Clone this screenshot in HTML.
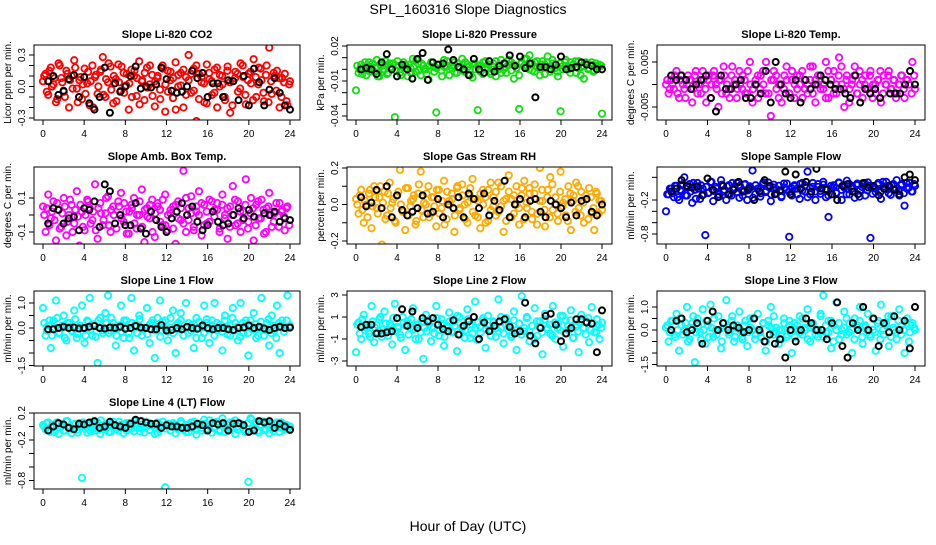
<!DOCTYPE html>
<html><head><meta charset="utf-8"><title>SPL_160316 Slope Diagnostics</title>
<style>
html,body{margin:0;padding:0;background:#fff;}
svg text{font-family:"Liberation Sans",sans-serif;fill:#000;}
</style></head>
<body>
<svg id="chart" width="936" height="540" viewBox="0 0 936 540" xmlns="http://www.w3.org/2000/svg">
<text x="468" y="14" text-anchor="middle" font-size="14">SPL_160316  Slope Diagnostics</text>
<text x="468" y="531" text-anchor="middle" font-size="14">Hour of Day (UTC)</text>
</svg>
<script>
const hourTicks = [0,4,8,12,16,20,24];
const titles = ["Slope Li-820 CO2","Slope Li-820 Pressure","Slope Li-820 Temp.","Slope Amb. Box Temp.","Slope Gas Stream RH","Slope Sample Flow","Slope Line 1 Flow","Slope Line 2 Flow","Slope Line 3 Flow","Slope Line 4 (LT) Flow"];
const yTitles = ["Licor ppm per min.","kPa per min.","degrees C per min.","degrees C per min.","percent per min.","ml/min per min.","ml/min per min.","ml/min per min.","ml/min per min.","ml/min per min."];

const co2Vals = [0.05,0.12,-0.08,0.18,0.02,-0.15,0.22,0.08,-0.05,0.15,-0.2,0.1,0.25,-0.02,0.06,-0.12,0.17,0.03,-0.18,0.2,0.09,-0.07,0.14,0.28,-0.1,0.04,0.19,-0.16,0.07,0.21,-0.04,0.13,0.01,-0.22,0.16,0.1,-0.09,0.24,0.05,-0.13,0.18,0.02,0.11,-0.19,0.08,-0.03,0.2,-0.24,0.15,0.06,-0.11,0.23,0.0,0.13,-0.2,0.09,0.3,-0.06,0.17,-0.33,0.12,0.04,-0.15,0.21,0.07,-0.08,0.16,-0.2,0.11,0.02,-0.13,0.19,-0.25,0.05,0.14,-0.05,0.22,0.09,-0.17,0.12,0.03,0.26,-0.1,0.18,0.06,-0.14,0.2,0.37,-0.07,0.1,0.15,-0.2,0.08,0.12,-0.18,0.05];
const co2Vals2 = [0.1,-0.05,0.15,0.0,0.08,-0.12,0.2,0.04,-0.1,0.12,0.06,-0.02,0.18,-0.15,0.09,0.02,-0.07,0.14,0.05,-0.2,0.11,0.0,0.16,-0.08,0.07,0.22,-0.03,0.1,-0.14,0.04,0.19,-0.06,0.12,0.03,-0.1,0.15,0.08,-0.17,0.06,0.13,-0.01,0.2,-0.09,0.05,0.1,-0.12,0.17,0.02,-0.05,0.14,0.08,-0.22,0.11,0.01,0.16,-0.08,0.06,0.12,-0.04,0.2,-0.12,0.09,0.03,-0.16,0.13,0.05,-0.06,0.18,0.0,0.1,-0.1,0.15,0.04,-0.18,0.08,0.12,-0.02,0.2,-0.08,0.06,0.14,-0.13,0.09,0.02,0.17,-0.06,0.11,-0.15,0.05,0.13,-0.04,0.08,-0.1,0.04,-0.14,0.02];
const co2Means = [0.05,0.1,-0.08,-0.04,0.07,0.11,-0.1,0.09,-0.16,-0.22,-0.1,0.18,-0.25,0.03,-0.05,0.0,0.1,0.19,-0.02,0.0,-0.01,0.02,0.18,0.07,-0.04,-0.06,-0.05,0.0,0.15,0.08,0.13,-0.1,0.03,0.03,-0.1,0.06,0.05,-0.13,0.1,-0.18,0.17,0.04,-0.18,-0.03,0.08,-0.06,-0.18,-0.22];
const pressVals = [-0.018,-0.003,0.004,0.0,-0.005,0.006,0.002,-0.002,0.008,-0.006,0.003,0.0,-0.004,0.005,0.001,-0.041,0.007,-0.003,0.002,0.004,-0.006,0.001,0.009,-0.002,0.005,-0.005,0.003,0.0,-0.009,0.006,0.002,-0.037,0.004,-0.001,0.008,0.003,-0.005,0.001,0.006,-0.003,0.002,0.009,-0.002,0.004,0.0,-0.007,0.005,-0.035,0.003,-0.004,0.007,0.001,-0.002,0.005,-0.006,0.002,0.008,0.0,-0.003,0.004,0.006,-0.008,0.001,-0.034,0.005,0.009,0.003,0.012,-0.001,0.006,0.002,-0.005,0.007,0.004,0.011,-0.002,0.005,0.001,-0.006,-0.036,0.003,0.008,0.0,0.006,0.004,-0.003,0.007,0.002,-0.008,0.005,0.001,0.006,-0.001,0.003,0.004,-0.038];
const pressVals2 = [0.003,0.0,-0.004,0.006,0.002,-0.002,0.005,0.001,-0.006,0.004,0.0,0.007,-0.003,0.002,0.005,-0.001,0.003,-0.005,0.006,0.001,0.004,-0.003,0.002,0.008,-0.001,0.005,0.0,-0.004,0.003,0.006,-0.002,0.001,0.004,-0.006,0.002,0.007,0.0,0.003,-0.003,0.005,0.001,-0.001,0.006,0.002,-0.005,0.004,0.0,0.003,-0.002,0.006,0.001,0.004,-0.004,0.002,0.007,0.0,-0.003,0.005,0.002,0.008,-0.001,0.004,0.001,-0.005,0.006,0.003,0.009,0.0,0.005,-0.002,0.007,0.002,0.004,-0.004,0.006,0.001,0.008,0.003,-0.002,0.005,0.0,0.006,0.002,-0.003,0.004,0.007,0.001,-0.005,0.003,0.006,0.0,0.004,-0.002,0.005,0.002,0.003];
const pressMeans = [0.0,0.001,0.0,-0.004,0.006,0.013,0.0,-0.006,0.004,0.0,-0.008,0.009,0.014,-0.009,0.006,0.004,0.005,0.017,0.008,0.002,0.0,-0.005,0.009,0.0,-0.003,0.007,-0.002,0.003,0.005,0.012,0.003,0.011,0.001,0.005,-0.024,0.002,0.002,0.0,0.004,0.011,0.0,0.001,0.002,0.006,0.004,0.003,0.0,0.0];
const tempVals = [0,-0.002,0.001,-0.001,0.003,-0.003,0.002,-0.001,0,0.001,-0.004,0.002,-0.002,0,0.003,-0.001,0.001,-0.003,0.002,0,-0.005,0.001,0.004,-0.002,-0.001,0.002,0,-0.003,0.003,-0.001,0.001,-0.002,0.005,-0.004,0,0.002,-0.001,0.003,-0.002,0.01,-0.007,0.001,0.002,-0.003,0,-0.001,0.004,-0.002,0.001,-0.003,0.002,0,0.003,-0.001,-0.002,0.001,0.004,-0.004,0,0.002,-0.001,0.005,-0.003,0.001,0.003,-0.002,0.006,0,-0.005,0.002,-0.001,0.001,0.004,-0.002,0,-0.003,0.002,-0.001,0.003,0,-0.002,0.001,-0.004,0.002,0,0.003,-0.001,0.001,-0.002,0,0.002,-0.003,0.001,0,0.005,-0.001];
const tempVals2 = [0.001,-0.001,0.0,0.002,-0.002,0.001,0.0,-0.003,0.002,0.001,-0.001,0.003,0.0,-0.002,0.001,-0.004,0.002,0.0,0.003,-0.001,0.001,-0.002,0.002,0.0,-0.003,0.004,0.001,-0.001,0.0,0.002,-0.002,0.003,0.0,-0.001,0.001,-0.003,0.002,0.0,0.005,-0.002,0.001,0.003,-0.001,0.0,-0.004,0.002,0.001,-0.002,0.003,0.0,-0.001,0.002,-0.003,0.001,0.0,0.004,-0.002,0.001,0.002,-0.001,0.0,-0.003,0.003,0.001,-0.002,0.0,0.002,0.004,-0.001,0.001,-0.004,0.0,0.002,-0.002,0.003,0.001,0.0,-0.001,0.002,-0.003,0.0,0.001,0.003,-0.002,0.0,0.002,-0.001,0.001,-0.003,0.0,0.002,-0.001,0.001,0.0,-0.002,0.002];
const tempMeans = [0.002,0.001,0.002,0.001,-0.001,0,0.001,0.002,-0.003,-0.006,0.002,-0.001,-0.001,0,0.001,-0.003,-0.003,0,-0.002,0.003,-0.004,0.005,0,-0.002,-0.003,0.001,-0.004,0.001,-0.001,0,0.002,0.001,0,-0.001,-0.001,-0.002,-0.003,0.002,-0.004,-0.001,-0.002,-0.001,-0.003,-0.011,-0.002,-0.002,-0.002,0,0.003,0];
const ambVals = [0.05,-0.1,0.12,-0.02,0.08,-0.15,0.03,-0.07,0.1,-0.12,0.0,0.06,-0.05,0.14,-0.18,0.02,-0.09,0.09,0.04,-0.03,0.18,-0.14,0.07,-0.06,0.01,0.11,-0.1,0.05,-0.2,0.08,0.13,-0.04,0.02,-0.11,0.06,0.1,-0.08,0.0,0.15,-0.16,0.04,-0.02,0.09,-0.13,0.07,0.03,-0.06,0.12,-0.09,0.01,0.05,-0.17,0.08,-0.03,0.26,-0.1,0.04,0.11,-0.07,0.02,0.14,-0.12,0.06,-0.05,0.09,-0.2,0.03,0.07,-0.08,0.12,0.0,-0.14,0.05,0.17,-0.06,0.08,-0.1,0.02,0.21,-0.04,0.1,-0.15,0.06,-0.02,0.09,-0.11,0.04,0.13,-0.07,0.01,-0.19,0.07,0.03,-0.09,0.05,-0.22];
const ambVals2 = [0.0,0.04,-0.06,0.02,-0.03,0.07,-0.08,0.01,0.05,-0.04,0.09,-0.1,0.03,-0.01,0.06,-0.07,0.0,0.08,-0.05,0.02,-0.09,0.04,0.01,-0.03,0.1,-0.06,0.03,0.0,-0.08,0.05,-0.02,0.07,-0.11,0.02,0.04,-0.05,0.0,0.08,-0.07,0.03,-0.01,0.06,-0.1,0.01,0.05,-0.04,0.09,-0.06,0.0,0.03,-0.08,0.06,-0.02,0.04,-0.05,0.1,-0.03,0.01,-0.09,0.05,0.0,0.07,-0.06,0.02,-0.04,0.08,-0.01,0.03,-0.1,0.06,-0.02,0.04,-0.07,0.0,0.09,-0.05,0.02,-0.03,0.06,-0.08,0.01,0.04,-0.06,0.08,-0.02,0.03,-0.1,0.05,0.0,-0.04,0.07,-0.07,0.02,-0.01,0.04,-0.06];
const ambMeans = [-0.05,0.04,0.03,-0.05,-0.02,-0.01,-0.09,0.04,0.03,0.08,-0.07,0.18,0.14,-0.05,0.0,-0.06,-0.06,0.07,-0.08,-0.11,0.02,-0.03,-0.07,-0.1,-0.02,0.02,0.07,0.0,0.05,-0.04,-0.09,-0.06,0.02,-0.04,-0.06,-0.05,0.0,0.04,-0.02,0.03,-0.01,-0.2,0.01,0.0,0.02,-0.04,-0.02,-0.03];
const rhVals = [0.03,-0.05,0.08,-0.1,0.0,0.06,-0.13,0.1,-0.02,0.04,-0.22,0.07,-0.06,0.12,0.01,-0.09,0.05,0.19,-0.04,-0.14,0.09,-0.01,0.03,-0.11,0.06,0.18,-0.07,0.0,0.1,-0.05,0.04,-0.12,0.08,-0.02,0.13,-0.08,0.02,0.06,-0.15,0.09,-0.03,0.11,0.0,-0.1,0.05,0.14,-0.06,0.02,-0.13,0.08,0.04,-0.09,0.12,-0.01,0.07,-0.04,0.1,-0.15,0.03,0.16,-0.07,0.05,0.0,-0.11,0.09,0.13,-0.02,0.06,-0.08,0.11,-0.05,0.2,0.02,-0.12,0.08,0.15,-0.03,0.04,-0.09,0.18,0.01,-0.06,0.1,-0.14,0.05,0.12,-0.02,0.07,-0.1,0.03,0.09,-0.05,-0.14,0.06,0.02,-0.03];
const rhVals2 = [0.0,0.05,-0.03,0.02,-0.07,0.08,-0.01,0.04,-0.05,0.1,0.01,-0.08,0.06,-0.02,0.03,-0.1,0.07,0.0,-0.04,0.09,-0.06,0.02,0.05,-0.09,0.11,-0.03,0.01,0.06,-0.07,0.04,-0.01,0.08,-0.05,0.02,-0.11,0.07,0.0,0.03,-0.06,0.1,-0.02,0.05,-0.08,0.01,0.09,-0.04,0.03,-0.07,0.06,0.0,-0.1,0.08,-0.03,0.04,-0.06,0.12,-0.01,0.02,-0.09,0.07,0.03,-0.05,0.1,-0.02,0.05,-0.08,0.01,0.09,-0.04,0.06,-0.11,0.02,0.08,-0.03,0.04,-0.07,0.11,0.0,-0.05,0.07,-0.01,0.03,-0.09,0.06,0.02,-0.04,0.1,-0.06,0.01,0.05,-0.08,0.04,-0.02,0.07,-0.05,0.02];
const rhMeans = [0.04,-0.01,0.01,0.08,-0.02,0.1,-0.07,0.05,-0.03,-0.06,-0.04,-0.02,0.05,-0.05,-0.04,0.03,-0.07,0.0,-0.02,0.04,-0.07,0.06,0.03,-0.02,0.06,-0.06,0.02,-0.03,0.13,-0.07,0.0,0.03,-0.07,0.02,0.03,-0.04,-0.07,0.02,0.0,-0.02,-0.07,0.01,-0.06,0.02,0.03,-0.04,-0.06,0.0];
const sampleVals = [-0.4,-0.1,0.0,-0.15,0.05,-0.2,-0.05,0.2,-0.12,0.08,-0.25,-0.02,0.1,-0.18,0.0,-0.82,-0.08,0.12,-0.22,0.03,-0.1,0.15,-0.05,-0.2,0.06,-0.12,0.02,0.1,-0.16,-0.03,0.07,-0.2,0.04,0.32,-0.1,0.0,-0.14,0.08,-0.06,0.11,-0.22,0.02,-0.08,0.05,-0.15,0.09,-0.02,-0.85,-0.12,0.06,0.0,-0.18,0.1,-0.05,0.3,-0.1,0.03,-0.2,0.08,-0.04,0.12,-0.15,-0.5,0.0,0.06,-0.08,0.1,-0.2,0.02,0.14,-0.1,0.05,-0.16,0.09,-0.03,0.07,-0.12,0.11,-0.87,0.02,-0.06,0.1,-0.18,0.04,0.12,-0.08,0.06,-0.02,0.15,-0.12,0.08,-0.3,0.0,0.1,-0.05,0.05];
const sampleVals2 = [-0.1,0.0,-0.08,0.05,-0.15,-0.02,0.08,-0.12,0.02,-0.05,0.1,-0.18,0.0,0.06,-0.1,0.03,-0.07,0.12,-0.04,0.0,-0.14,0.07,-0.02,0.04,-0.1,0.1,0.0,-0.06,0.05,-0.12,0.08,-0.03,0.02,-0.16,0.06,0.0,-0.08,0.11,-0.04,0.03,-0.1,0.07,-0.01,0.05,-0.13,0.02,0.09,-0.06,0.0,0.04,-0.1,0.08,-0.03,0.06,-0.15,0.01,0.1,-0.05,0.03,-0.09,0.07,0.0,-0.12,0.05,0.02,-0.07,0.11,-0.02,0.04,-0.1,0.08,0.0,-0.05,0.06,-0.14,0.03,0.1,-0.03,0.05,-0.09,0.01,0.07,-0.06,0.12,-0.01,0.04,-0.11,0.08,0.0,-0.04,0.06,-0.08,0.1,0.02,-0.05,0.08];
const sampleMeans = [-0.05,0.0,0.15,0.05,0.02,0.04,-0.12,0.18,-0.02,-0.15,0.05,-0.1,-0.02,0.12,-0.05,0.0,-0.2,-0.05,0.15,0.05,-0.1,-0.03,0.3,-0.1,0.25,0.0,0.12,-0.05,0.35,0.0,-0.02,-0.1,-0.2,0.05,0.08,-0.05,-0.1,0.1,0.02,0.05,-0.12,0.0,0.05,-0.02,-0.1,0.2,0.25,0.15];
const line1Vals = [0.8,-0.3,0.1,-0.8,0.3,1.1,-0.2,0.0,0.5,-0.5,0.2,-0.1,0.7,-0.4,0.0,0.9,-0.6,0.3,1.2,-0.3,0.1,-1.4,0.4,-0.2,0.6,1.3,-0.1,0.2,-0.7,0.0,0.9,-0.4,0.3,-0.2,1.2,-0.9,0.1,0.5,-0.3,0.0,0.8,-0.6,0.2,-1.2,0.4,1.1,-0.1,0.3,-0.5,0.0,0.7,-1.0,0.2,0.6,-0.3,1.0,-0.2,0.1,-0.8,0.4,0.0,-0.4,0.9,0.2,-0.6,0.3,1.0,-0.1,0.1,-0.9,0.5,0.0,-0.3,0.8,0.2,-0.5,1.0,-0.2,0.3,-1.1,0.1,0.6,-0.4,0.0,1.2,-0.3,0.2,-0.7,0.5,-0.1,0.9,-1.0,0.3,0.0,1.3,0.1];
const line1Vals2 = [0.2,-0.1,0.3,-0.3,0.0,0.4,-0.2,0.1,-0.4,0.2,0.05,-0.15,0.35,-0.25,0.1,0.0,-0.3,0.25,-0.05,0.15,-0.35,0.3,0.0,-0.1,0.2,-0.2,0.4,0.05,-0.3,0.1,-0.15,0.3,0.0,-0.4,0.2,0.1,-0.2,0.35,-0.05,0.0,-0.25,0.15,0.3,-0.1,0.05,-0.35,0.25,0.0,-0.15,0.4,-0.2,0.1,-0.05,0.3,-0.3,0.0,0.2,-0.1,0.15,-0.4,0.25,0.05,-0.2,0.35,-0.05,0.1,-0.3,0.2,0.0,-0.15,0.3,-0.25,0.1,0.4,-0.1,0.05,-0.35,0.2,0.0,-0.2,0.3,-0.05,0.15,-0.3,0.25,0.0,-0.1,0.35,-0.2,0.1,-0.4,0.2,0.05,-0.15,0.3,0.0];
const line1Means = [-0.05,-0.05,0.0,0.05,0.0,0.02,-0.02,0.0,0.05,0.08,0.0,-0.02,0.02,0.0,0.05,-0.03,0.0,0.08,0.02,0.0,-0.05,-0.05,0.12,-0.1,-0.08,0.0,-0.05,0.05,0.0,-0.03,0.1,0.0,-0.05,0.0,0.0,-0.05,-0.08,0.0,0.02,0.1,0.0,0.05,-0.02,-0.08,0.0,0.05,0.0,0.02];
const line2Vals = [-2.2,0.5,-1,1.2,0,-0.5,2,-1.3,0.3,0.8,-0.8,1.5,-0.2,0.4,-1.5,2.2,0.1,-0.6,1,-2,0.6,0,1.8,-1,0.3,-0.4,-2.8,1.2,0.5,-1.2,0,2,-0.7,0.8,-1.6,0.2,1.4,-0.3,0.6,-2.1,1,0,-0.9,1.7,0.3,-0.5,2.4,-1.1,0.1,0.7,-1.8,1.1,-0.2,0.5,-0.8,2.6,0,-1.4,0.9,0.3,-0.6,1.5,-2,0.4,2.9,-0.3,1,-1.2,0.2,1.8,-0.7,0.6,-2.4,1.3,0,-0.5,2,-1,0.4,1.1,-1.7,0.7,-0.2,1.6,-0.9,0.3,-2.2,1.2,0,0.6,-1.3,1.9,-0.4,0.8,-1,0.5];
const line2Vals2 = [0.3,-0.5,0.8,-0.2,0.1,-0.8,0.6,0.0,-0.4,1.0,-0.1,0.4,-0.7,0.2,0.9,-0.3,0.0,-0.9,0.5,0.2,-0.6,0.8,-0.1,0.3,-1.0,0.6,0.0,-0.3,0.7,0.1,-0.5,0.9,-0.2,0.4,-0.8,0.0,0.6,-0.4,0.2,1.1,-0.6,0.1,-0.2,0.8,-0.9,0.3,0.0,0.5,-0.4,0.9,-0.1,0.2,-0.7,0.6,0.0,-0.3,1.0,-0.5,0.3,0.1,-0.8,0.7,-0.2,0.4,-0.6,0.0,0.9,-0.3,0.2,-1.0,0.6,0.1,-0.4,0.8,-0.1,0.3,-0.7,0.5,0.0,-0.2,1.1,-0.5,0.2,0.7,-0.9,0.1,-0.3,0.6,0.0,-0.6,0.9,-0.2,0.4,-0.4,0.3,0.0];
const line2Means = [0.1,0.3,0.3,-0.5,-0.5,-0.4,-0.3,0.9,1.7,0.2,1.5,0,0.9,0.6,0.9,0.3,-0.1,-0.3,0.7,-0.6,0.2,0.6,1,-1,0.5,-0.3,0.2,0.6,0.8,0.1,-0.5,-0.3,2.3,-0.7,-1.4,0,1.1,1.3,0.3,-1.2,-0.5,0,0.8,0.8,0.5,0.4,-2.2,1.6];
const line3Vals = [0.1,-0.5,0.4,-0.2,0.7,-0.9,0.2,0.0,1.0,-0.4,0.3,-1.4,0.5,-0.1,0.9,-0.6,0.2,1.1,-0.3,0.0,0.6,-0.8,0.3,1.3,-0.2,0.4,-0.5,0.1,0.8,-0.3,0.2,-0.7,0.5,0.0,-0.4,0.7,-0.1,0.3,-0.9,0.4,1.0,-0.2,0.1,-0.6,0.0,0.5,-0.3,0.2,-1.0,0.3,0.0,0.6,-0.2,0.1,0.9,-0.5,0.2,0.0,-0.3,0.7,1.5,-0.1,0.4,-0.8,0.2,1.2,-0.4,0.0,0.8,-0.2,0.3,-1.0,0.5,0.1,1.0,-0.6,0.2,0.7,-0.3,0.0,-0.9,0.4,1.1,-0.2,0.3,-0.7,0.6,0.0,-0.4,0.9,0.2,-1.0,0.5,-0.1,0.3,0.0];
const line3Vals2 = [0.2,-0.1,0.4,-0.3,0.0,0.5,-0.2,0.3,-0.5,0.1,0.6,-0.1,0.2,-0.4,0.0,0.4,-0.3,0.1,0.5,-0.2,0.0,-0.5,0.3,0.1,-0.1,0.6,-0.3,0.2,0.0,-0.4,0.4,-0.1,0.1,0.5,-0.2,0.0,-0.3,0.3,-0.5,0.2,0.1,0.6,-0.1,0.0,-0.4,0.3,-0.2,0.4,0.0,-0.3,0.2,-0.1,0.5,0.0,-0.4,0.1,0.3,-0.2,0.0,0.6,-0.3,0.2,-0.1,0.4,-0.5,0.0,0.3,-0.2,0.1,0.5,-0.1,0.0,-0.4,0.2,0.4,-0.3,0.1,0.0,-0.2,0.5,-0.1,0.3,-0.4,0.0,0.2,0.6,-0.3,0.1,-0.1,0.4,-0.2,0.0,0.3,-0.5,0.2,0.1];
const line3Means = [0.0,0.4,0.5,-0.1,0.0,0.3,-0.6,0.4,0.8,0.0,0.3,0.0,0.2,0.1,-0.1,0.0,0.5,0.0,-0.5,-0.2,-0.6,-0.4,-1.2,0.0,-0.5,0.0,0.5,0.3,0.0,0.0,-0.4,0.3,1.2,-0.7,-1.2,0.3,0.0,1.0,0.0,0.5,-0.7,0.3,-0.1,0.6,0.0,0.4,-0.8,1.0];
const line4Vals = [0.02,-0.04,0.06,-0.08,-0.01,0.04,-0.11,0,-0.06,0.08,-0.03,-0.1,0.03,-0.05,0.05,-0.76,0,-0.09,0.04,-0.02,-0.06,0.06,-0.11,0.01,-0.04,0.03,-0.08,0.07,-0.01,-0.06,0.02,-0.1,0.05,-0.03,0,-0.07,0.04,-0.02,0.08,-0.09,0.01,-0.05,0.03,-0.11,0.06,-0.04,0,-0.9,0.04,-0.06,0.02,-0.1,-0.01,0.05,-0.04,-0.08,0.03,-0.02,0.07,-0.12,0.01,-0.06,0.04,-0.03,0.09,-0.09,0,0.05,-0.05,0.12,-0.08,0.02,-0.02,0.06,-0.11,0,0.04,-0.04,-0.08,-0.82,0.11,-0.01,0.07,-0.09,0.02,-0.05,0.05,-0.1,0.01,-0.03,0.06,-0.08,0.03,-0.01,-0.04,0];
const line4Vals2 = [0.0,0.05,-0.05,0.02,-0.08,0.06,-0.02,0.03,-0.06,0.08,0.0,-0.04,0.04,-0.09,0.01,0.06,-0.03,0.02,-0.07,0.05,0.0,-0.05,0.09,-0.02,0.03,-0.08,0.04,0.0,-0.04,0.07,-0.01,0.02,-0.06,0.05,-0.03,0.08,0.0,-0.07,0.03,-0.02,0.06,-0.05,0.01,0.04,-0.09,0.02,0.07,-0.03,0.0,-0.06,0.05,0.03,-0.04,0.08,-0.01,0.02,-0.08,0.06,0.0,-0.05,0.04,-0.02,0.1,-0.06,0.01,0.05,-0.03,0.07,-0.07,0.02,0.0,-0.04,0.06,-0.02,0.09,-0.05,0.03,0.0,-0.08,0.05,0.12,-0.03,0.04,-0.06,0.02,0.07,-0.04,0.0,0.05,-0.07,0.03,-0.01,0.06,-0.05,0.02,0.0];
const line4Means = [-0.06,0.0,0.05,0.03,-0.02,-0.04,0.04,0.03,0.06,0.08,-0.02,0.0,0.07,0.02,0.0,-0.02,0.04,0.1,0.08,0.06,0.04,0.04,-0.02,0.02,0.0,0.0,-0.02,-0.02,0.0,0.04,0.02,-0.06,0.05,0.03,0.05,-0.06,0.04,0.05,0.02,-0.08,-0.06,0.08,0.06,0.08,-0.02,0.04,0.0,-0.05];

const yTickVals = [[-0.3,-0.2,-0.1,0,0.1,0.2,0.3],[-0.04,-0.03,-0.02,-0.01,0,0.01,0.02],[-0.005,0,0.005],[-0.1,0,0.1],[-0.2,-0.1,0,0.1,0.2],[-0.8,-0.6,-0.4,-0.2,0.2],[-1.5,-1,-0.5,0,0.5,1],[-3,-1,1,3],[-1.5,-1,-0.5,0,0.5,1],[-0.8,-0.6,-0.4,-0.2,0,0.2]];
const yTickLabels = [["-0.3","","","0.0","","","0.3"],["-0.04","","","-0.01","","","0.02"],["-0.005","","0.005"],["-0.1","","0.1"],["-0.2","","0.0","","0.2"],["-0.8","","","-0.2",""],["-1.5","","","0.0","","1.0"],["-3","-1","1","3"],["-1.5","","","0.0","","1.0"],["-0.8","","","-0.2","","0.2"]];

const series = [[co2Vals,co2Vals2,co2Means],[pressVals,pressVals2,pressMeans],[tempVals,tempVals2,tempMeans],[ambVals,ambVals2,ambMeans],[rhVals,rhVals2,rhMeans],[sampleVals,sampleVals2,sampleMeans],[line1Vals,line1Vals2,line1Means],[line2Vals,line2Vals2,line2Means],[line3Vals,line3Vals2,line3Means],[line4Vals,line4Vals2,line4Means]];

// layout (not data)
const colBox = [[34,300],[347,612],[657,925]];
const rowBox = [[45,120],[167,244],[291,366],[413,489]];
const yCal = [[0.3,55,-0.3,118],[0.02,46,-0.04,116],[0.005,62,-0.005,107],[0.1,198,-0.1,232],[0.2,168,-0.2,241],[-0.2,200,-0.8,234],[1,303,0,328],[1,317,-1,339],[1,307,0,330],[0.2,413,-0.2,440]];
const colors = ["#ff0000","#11dd11","#ff00ff","#ff00ff","#ffaa00","#0000ff","#00ffff","#00ffff","#00ffff","#00ffff"];

const NS = "http://www.w3.org/2000/svg";
const svg = document.getElementById('chart');
function mk(tag, attrs, parent){const e=document.createElementNS(NS,tag);for(const k in attrs)e.setAttribute(k,attrs[k]);(parent||svg).appendChild(e);return e;}

for (let p=0;p<10;p++){
  const col=p%3,row=Math.floor(p/3);
  const [L,R]=colBox[col],[T,B]=rowBox[row];
  const h0=L+9,h24=R-10;
  const xs=h=>h0+(h24-h0)*h/24;
  const c=yCal[p];
  const ys=v=>c[1]+(v-c[0])*(c[3]-c[1])/(c[2]-c[0]);
  const g=mk('g',{});
  
  
  const clip=mk('clipPath',{id:'cp'+p},g);
  mk('rect',{x:L,y:T,width:R-L,height:B-T},clip);
  const t=mk('text',{x:(L+R)/2,y:T-7,'text-anchor':'middle','font-size':11,'font-weight':'bold'},g);
  t.textContent=titles[p];
  
  
  const marks=mk('g',{'clip-path':'url(#cp'+p+')'},g);
  const [vals,vals2,means]=series[p];
  vals.forEach((v,i)=>{
    const e=mk('circle',{cx:xs(i*24/(vals.length-1)),cy:ys(v),r:3.2,fill:'none',stroke:colors[p],'stroke-width':1.8},marks);
    
    
  });
  vals2.forEach((v,i)=>{
    const e=mk('circle',{cx:xs(0.12+i*23.8/(vals2.length-1)),cy:ys(v),r:3.2,fill:'none',stroke:colors[p],'stroke-width':1.8},marks);
    
    
  });
  means.forEach((v,i)=>{
    const e=mk('circle',{cx:xs(0.5+i*23.5/(means.length-1)),cy:ys(v),r:3,fill:'none',stroke:'#000','stroke-width':2},marks);
    
    
  });
  const box=mk('rect',{x:L,y:T,width:R-L,height:B-T,fill:'none',stroke:'#000','stroke-width':1},g);
  
  
  hourTicks.forEach(h=>{
    mk('line',{x1:xs(h),x2:xs(h),y1:B,y2:B+5,stroke:'#000'},g);
    const tl=mk('text',{x:xs(h),y:B+17,'text-anchor':'middle','font-size':10},g);
    tl.textContent=h;
    
    
  });
  yTickVals[p].forEach((v,i)=>{
    const y=ys(v);
    mk('line',{x1:L-5,x2:L,y1:y,y2:y,stroke:'#000'},g);
    const lab=yTickLabels[p][i];
    if(lab){
      const tl=mk('text',{x:L-9,y:y,'text-anchor':'middle','font-size':10,transform:`rotate(-90 ${L-9} ${y})`},g);
      tl.textContent=lab;
      
      
    }
  });
  const yt=mk('text',{x:L-23,y:(T+B)/2,'text-anchor':'middle','font-size':10,transform:`rotate(-90 ${L-23} ${(T+B)/2})`},g);
  yt.textContent=yTitles[p];
  
  
}
</script>
</body></html>
